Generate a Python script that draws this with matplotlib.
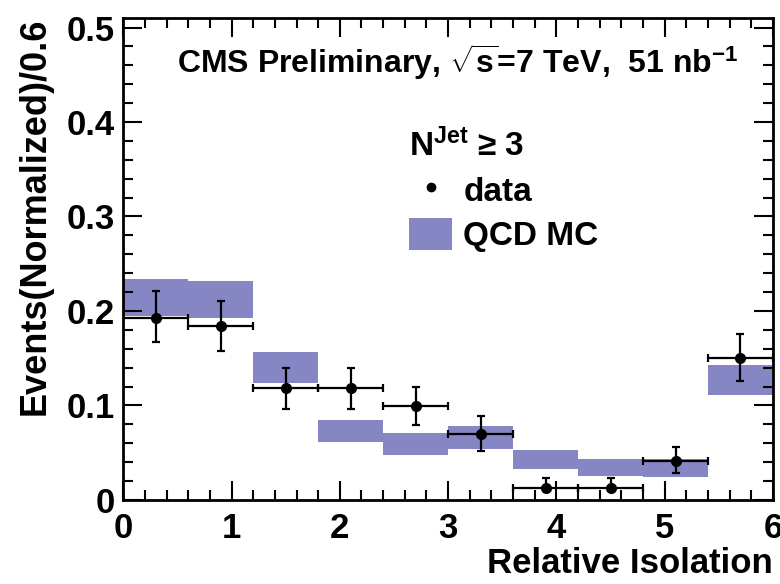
import matplotlib
matplotlib.use("Agg")
import matplotlib.pyplot as plt
import numpy as np
from matplotlib.patches import Patch
from matplotlib.lines import Line2D
from matplotlib.ticker import MultipleLocator

plt.rcParams['font.family'] = ['Liberation Sans', 'DejaVu Sans']
plt.rcParams['font.weight'] = 'bold'
plt.rcParams['mathtext.fontset'] = 'custom'
plt.rcParams['mathtext.rm'] = 'Liberation Sans:bold'
plt.rcParams['mathtext.it'] = 'Liberation Sans:bold'
plt.rcParams['mathtext.bf'] = 'Liberation Sans:bold'

# bins of relative isolation
bin_lo = [0.0, 0.6, 1.2, 1.8, 2.4, 3.0, 3.6, 4.2, 4.8, 5.4]
bin_width = 0.6

# QCD MC band (lower / upper edge)
mc_low = [0.195, 0.193, 0.124, 0.061, 0.048, 0.054, 0.033, 0.025, 0.024, 0.111]
mc_high = [0.234, 0.232, 0.157, 0.085, 0.071, 0.078, 0.053, 0.043, 0.043, 0.143]

# data points and errors
data_y = [0.193, 0.184, 0.118, 0.118, 0.099, 0.070, 0.013, 0.013, 0.041, 0.150]
data_up = [0.028, 0.027, 0.022, 0.022, 0.021, 0.019, 0.010, 0.010, 0.015, 0.026]
data_dn = [0.026, 0.026, 0.022, 0.022, 0.020, 0.018, 0.004, 0.004, 0.013, 0.024]

mc_color = '#8686c4'

centers = np.array(bin_lo) + bin_width / 2

fig = plt.figure(figsize=(7.8, 5.84), dpi=100)
ax = fig.add_axes([0.158, 0.144, 0.833, 0.825])

ax.bar(centers, np.array(mc_high) - np.array(mc_low), bottom=mc_low,
       width=bin_width, color=mc_color, linewidth=0, zorder=1)

ax.errorbar(centers, data_y, yerr=[data_dn, data_up], xerr=bin_width / 2,
            fmt='o', color='black', markersize=7, elinewidth=1.6,
            capsize=2.8, capthick=1.6, zorder=3)

ax.set_xlim(0, 6)
ax.set_ylim(0, 0.51)
ax.xaxis.set_major_locator(MultipleLocator(1))
ax.xaxis.set_minor_locator(MultipleLocator(0.2))
ax.yaxis.set_major_locator(MultipleLocator(0.1))
ax.yaxis.set_minor_locator(MultipleLocator(0.02))
ax.set_yticks([0, 0.1, 0.2, 0.3, 0.4, 0.5])
ax.set_yticklabels(['0', '0.1', '0.2', '0.3', '0.4', '0.5'])
ax.tick_params(which='both', direction='in', top=True, right=True, width=1.5)
ax.tick_params(which='major', length=14, labelsize=25)
ax.tick_params(axis='x', which='major', pad=9)
ax.tick_params(axis='y', which='major', pad=6)
ax.tick_params(which='minor', length=7)
for s in ax.spines.values():
    s.set_linewidth(2)

ax.set_xlabel('Relative Isolation', fontsize=25, fontweight='bold', loc='right',
              labelpad=1)
ax.set_ylabel('Events(Normalized)/0.6', fontsize=26, fontweight='bold', loc='top',
              labelpad=10)

ax.text(0.515, 0.886, r'CMS Preliminary, $\sqrt{\mathrm{s}}$=7 TeV,  51 nb$^{\mathrm{-1}}$',
        transform=ax.transAxes, ha='center', va='baseline', fontsize=23, fontweight='bold')

handles = [Line2D([], [], marker='o', color='black', linestyle='none', markersize=6),
           Patch(facecolor=mc_color, edgecolor='none')]
leg = ax.legend(handles, ['data', 'QCD MC'], title=r'$\mathrm{N^{Jet}}$ ≥ 3',
                loc='upper left', bbox_to_anchor=(0.44, 0.77), frameon=False,
                fontsize=24, title_fontsize=24, handlelength=1.3, handleheight=1.1,
                handletextpad=0.33, labelspacing=0.3, borderpad=0, borderaxespad=0,
                alignment='left')
leg.get_title().set_fontweight('bold')

fig.savefig('out.png', dpi=100)
